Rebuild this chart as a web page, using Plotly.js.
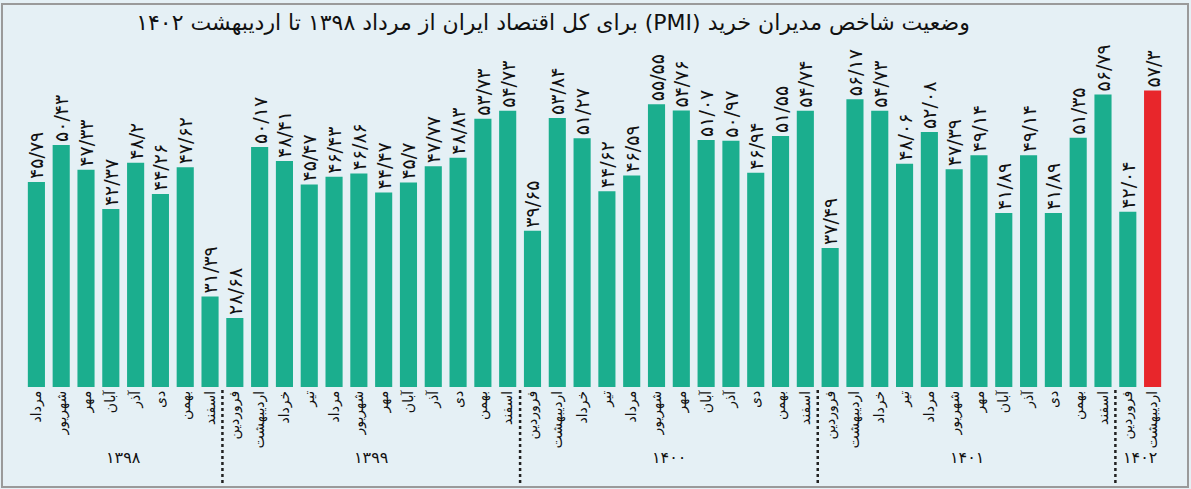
<!DOCTYPE html>
<html><head><meta charset="utf-8">
<script src="https://cdn.plot.ly/plotly-3.0.1.min.js"></script>
<style>html,body{margin:0;padding:0;background:#e5f0f5;}#chart{width:1191px;height:489px;}</style>
</head><body><div id="chart"></div>
<script>
// Years and their months (in order)
const years = ['۱۳۹۸', '۱۳۹۹', '۱۴۰۰', '۱۴۰۱', '۱۴۰۲'];
const fullYear = ['فروردین','اردیبهشت','خرداد','تیر','مرداد','شهریور','مهر','آبان','آذر','دی','بهمن','اسفند'];
const months1398 = ['مرداد','شهریور','مهر','آبان','آذر','دی','بهمن','اسفند'];
const months1399 = fullYear.slice();
const months1400 = fullYear.slice();
const months1401 = fullYear.slice();
const months1402 = ['فروردین','اردیبهشت'];
const yearMonths = [months1398, months1399, months1400, months1401, months1402];

// PMI values
const pmi1398 = [45.79, 50.43, 47.33, 42.37, 48.2, 44.26, 47.62, 31.39];
const pmi1399 = [28.68, 50.17, 48.41, 45.47, 46.43, 46.86, 44.47, 45.7, 47.77, 48.83, 53.73, 54.73];
const pmi1400 = [39.65, 53.84, 51.27, 44.62, 46.59, 55.55, 54.76, 51.07, 50.97, 46.94, 51.55, 54.74];
const pmi1401 = [37.49, 56.17, 54.73, 48.06, 52.08, 47.39, 49.14, 41.89, 49.14, 41.89, 51.35, 56.79];
const pmi1402 = [42.04, 57.3];
const yearValues = [pmi1398, pmi1399, pmi1400, pmi1401, pmi1402];

const title = 'وضعیت شاخص مدیران خرید (PMI) برای کل اقتصاد ایران از مرداد ۱۳۹۸ تا اردیبهشت ۱۴۰۲';

// ---- build
const monthLabels = [].concat(...yearMonths);
const values = [].concat(...yearValues);
const xs = values.map((v, i) => i);
const faDigits = '۰۱۲۳۴۵۶۷۸۹';
const toFa = v => String(v).replace('.', '/').replace(/[0-9]/g, d => faDigits[+d]);
const texts = values.map(toFa);
const colors = values.map((v, i) => i === values.length - 1 ? '#e8262b' : '#1bae8e');

const W = 1191, H = 489;
const M = {l: 24, r: 26, t: 53, b: 102};
const pyPaper = py => (H - M.b - py) / (H - M.t - M.b);
const pxPaper = px => (px - M.l) / (W - M.l - M.r);

const shapes = [];
const annotations = [];
let start = 0;
yearMonths.forEach((ms, k) => {
  const end = start + ms.length - 1;
  annotations.push({
    x: (start + end) / 2, xref: 'x', y: pyPaper(469), yref: 'paper',
    text: years[k], showarrow: false,
    font: {family: 'DejaVu Sans', size: 16, color: '#111'}
  });
  if (k > 0) {
    shapes.push({type: 'line', xref: 'x', yref: 'paper',
      x0: start - 0.5, x1: start - 0.5, y0: pyPaper(390), y1: pyPaper(486),
      line: {color: '#222', width: 2.5, dash: 'dot'}});
  }
  start = end + 1;
});
// frame
shapes.push({type: 'rect', xref: 'paper', yref: 'paper', layer: 'below',
  x0: pxPaper(2), x1: pxPaper(1188), y0: pyPaper(487), y1: pyPaper(4),
  line: {color: '#9a9a9a', width: 2}, fillcolor: 'rgba(0,0,0,0)'});

const trace = {
  type: 'bar', x: xs, y: values,
  marker: {color: colors, line: {width: 0}},
  text: texts, textposition: 'outside', textangle: -90,
  constraintext: 'none', cliponaxis: false,
  textfont: {family: 'DejaVu Sans', size: 19, color: '#111'},
  hoverinfo: 'none'
};

const layout = {
  width: W, height: H,
  margin: M,
  paper_bgcolor: '#e5f0f5', plot_bgcolor: '#e5f0f5',
  bargap: 0.31,
  showlegend: false,
  title: {text: '\u202B' + title + '\u202C', x: 553 / W, xanchor: 'center',
          y: 1 - 22 / H, yanchor: 'middle',
          font: {family: 'DejaVu Sans', size: 22, color: '#111'}},
  xaxis: {range: [-0.5, values.length - 0.5], tickmode: 'array', tickvals: xs, ticktext: monthLabels,
          tickangle: -90, showgrid: false, zeroline: false, showline: false, ticks: '',
          tickfont: {family: 'DejaVu Sans', size: 14, color: '#111'}, fixedrange: true},
  yaxis: {range: [20, 62], visible: false, showgrid: false, zeroline: false, fixedrange: true},
  shapes: shapes, annotations: annotations
};

Plotly.newPlot('chart', [trace], layout, {displayModeBar: false, staticPlot: true});
</script></body></html>
